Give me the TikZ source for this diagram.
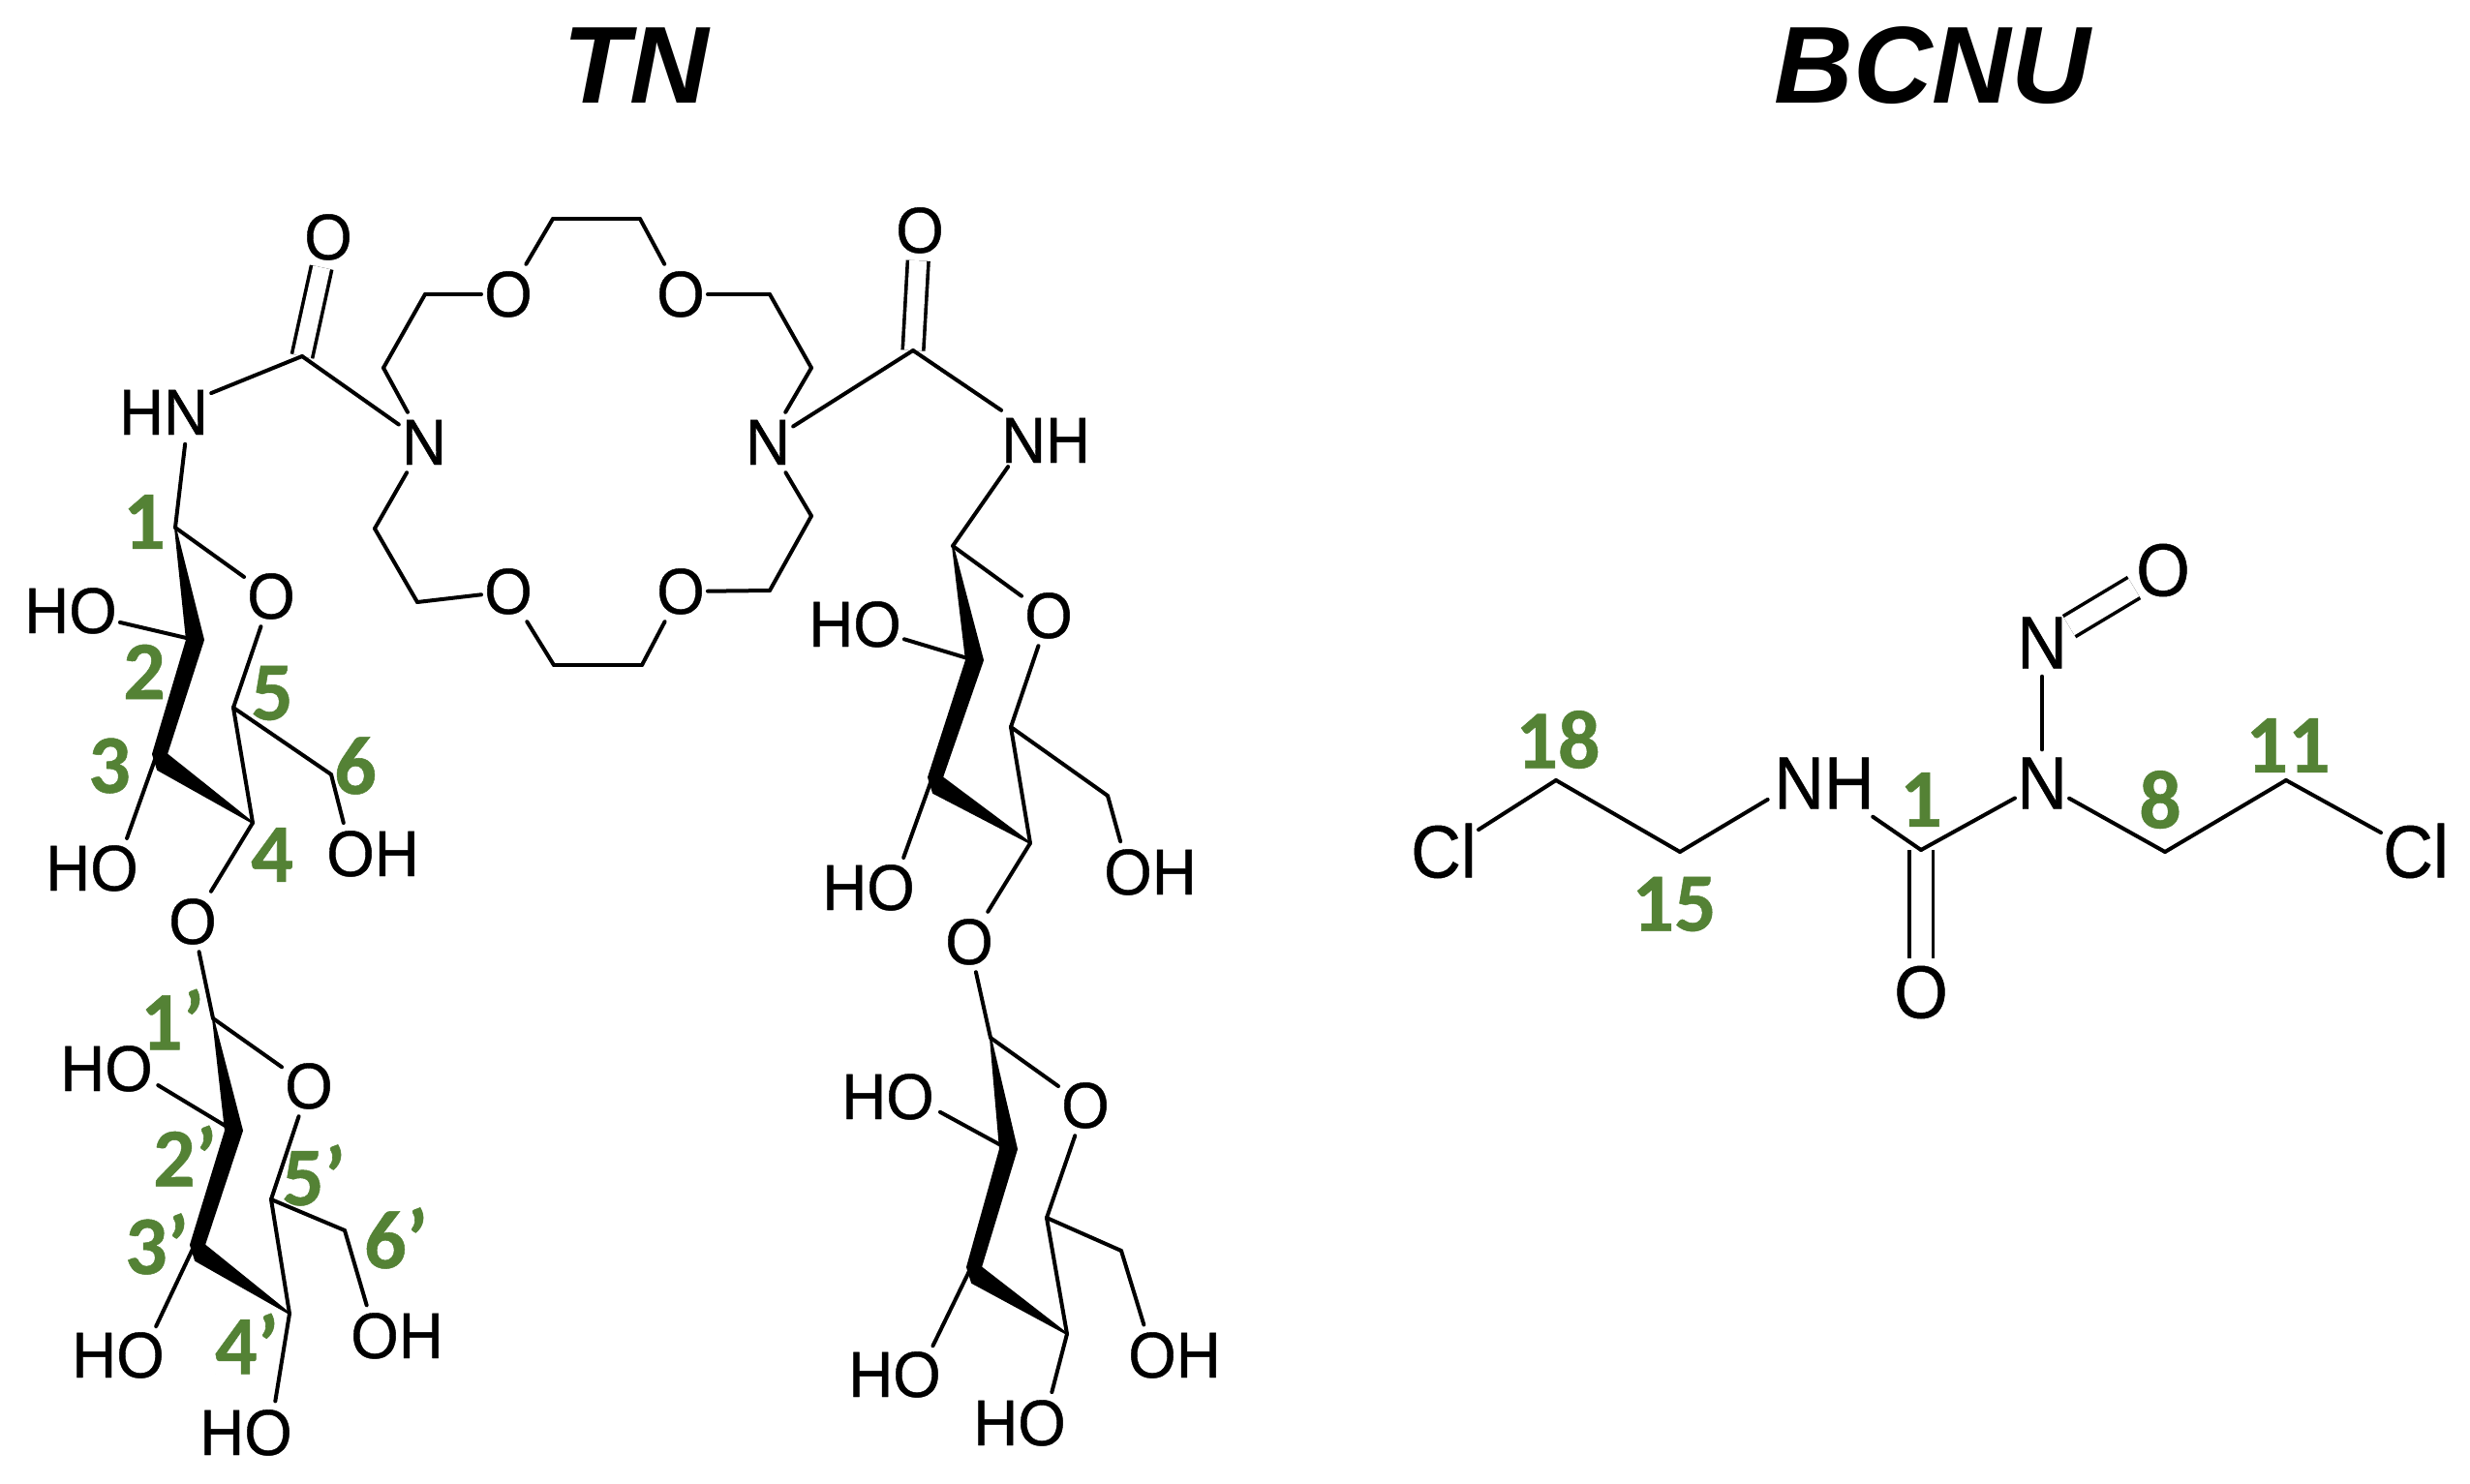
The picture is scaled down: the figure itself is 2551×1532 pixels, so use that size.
\documentclass[tikz,border=0pt]{standalone}
\usepackage{fontspec}
\setmainfont{Liberation Sans}
\newfontfamily\atomfontL[FakeStretch=0.95,FakeBold=0.6]{Liberation Sans}
\newfontfamily\atomfontB[FakeStretch=0.93,FakeBold=0.6]{Liberation Sans}
\newfontfamily\greenfont[BoldFeatures={FakeBold=0.6}]{Carlito}
\definecolor{labelgreen}{HTML}{548235}
\tikzset{
  x=1pt,y=-1pt,
  atom/.style={font=\atomfontL\fontsize{67}{67}\selectfont,text=black,text height=46pt,text depth=0pt,inner xsep=3pt,inner ysep=8pt},
  atomB/.style={font=\atomfontB\fontsize{77}{77}\selectfont,text=black,text height=53pt,text depth=0pt,inner xsep=2pt,inner ysep=8pt},
  num/.style={font=\greenfont\bfseries\fontsize{86}{86}\selectfont,text=labelgreen,inner sep=0pt},
  titletext/.style={font=\bfseries\itshape\fontsize{113}{113}\selectfont,text=black,inner sep=0pt},
  bond/.style={draw=black,line width=4pt,line cap=round,line join=round},
  dbond/.style={draw=black,line width=3.6pt,double=white,double distance=18pt},
  tohet/.style={bond,shorten >=33pt},
  wedge/.style={fill=black,draw=black,line width=2pt,line join=round},
}
% HO / OH nodes: the bond aims at the O of the label
\newcommand{\HOnode}[3]{\node[atom] (#1) at (#2,#3) {HO}; \coordinate (#1o) at ([xshift=25pt]#1.center);}
\newcommand{\OHnode}[3]{\node[atom] (#1) at (#2,#3) {OH}; \coordinate (#1o) at ([xshift=-22pt]#1.center);}
% ring backbone: tip c1, thick c2-c3, wedge to tip c4
\newcommand{\backbone}[4]{\fill[wedge] (#1) -- ([xshift=9pt]#2) -- ([xshift=10pt]#3) -- (#4) -- ([shift={(1,16)}]#3) -- ([xshift=-4pt]#3) -- ([xshift=-8pt]#2) -- cycle;}
\begin{document}
\begin{tikzpicture}
\useasboundingbox (0,0) rectangle (2551,1532);
% titles
\node[titletext] (tTN) at (657,68) {TN};
\node[titletext] (tBC) at (1996,68) {BCNU};

% ===== crown =====
\node[atom] (N1) at (438,457) {N};
\node[atom] (N2) at (793,457) {N};
\node[atom] (Oa) at (525,304) {O};
\node[atom] (Ob) at (703,304) {O};
\node[atom] (Oc) at (703,611) {O};
\node[atom] (Od) at (525,611) {O};
\coordinate (r1) at (396,380);
\coordinate (r2) at (439,304);
\coordinate (r3) at (571,226);
\coordinate (r4) at (661,226);
\coordinate (r5) at (795,304);
\coordinate (r6) at (838,380);
\coordinate (r7) at (838,533);
\coordinate (r8) at (795,610);
\coordinate (r9) at (663,687);
\coordinate (r10) at (572,687);
\coordinate (r11) at (431,622);
\coordinate (r12) at (387,546);
\draw[bond] (N1) -- (r1);
\draw[bond] (r1) -- (r2);
\draw[bond] (r2) -- (Oa);
\draw[bond] (Oa) -- (r3);
\draw[bond] (r3) -- (r4);
\draw[bond] (r4) -- (Ob);
\draw[bond] (Ob) -- (r5);
\draw[bond] (r5) -- (r6);
\draw[bond] (r6) -- (N2);
\draw[bond] (N2) -- (r7);
\draw[bond] (r7) -- (r8);
\draw[bond] (r8) -- (Oc);
\draw[bond] (Oc) -- (r9);
\draw[bond] (r9) -- (r10);
\draw[bond] (r10) -- (Od);
\draw[bond] (Od) -- (r11);
\draw[bond] (r11) -- (r12);
\draw[bond] (r12) -- (N1);

% ===== left urea =====
\node[atom] (LO) at (339,245) {O};
\node[atom] (LHN) at (169,426) {HN};
\coordinate (LC) at (312,368);
\coordinate (LHNn) at ([xshift=26pt]LHN.center);
\draw[dbond] (LC) -- (LO);
\draw[bond] (LHN) -- (LC);
\draw[bond] (LC) -- (N1);

% ===== left sugar 1 =====
\coordinate (a1) at (181,545);
\coordinate (a2) at (201,661);
\coordinate (a3) at (162,779);
\coordinate (a4) at (261,850);
\coordinate (a5) at (241,731);
\coordinate (a6) at (342,800);
\node[atom] (aO) at (280,616) {O};
\node[atom] (aB) at (199,952) {O};
\HOnode{aH2}{73}{631}
\HOnode{aH3}{95}{897}
\OHnode{aH6}{385}{882}
\draw[tohet] (a1) -- (LHNn);
\backbone{a1}{a2}{a3}{a4}
\draw[bond] (a1) -- (aO);
\draw[bond] (aO) -- (a5);
\draw[bond] (a5) -- (a4);
\draw[bond] (a5) -- (a6);
\draw[tohet] (a6) -- (aH6o);
\draw[bond] (a2) -- (aH2);
\draw[tohet] (a3) -- (aH3o);
\draw[bond] (a4) -- (aB);

% ===== left sugar 2 =====
\coordinate (b1) at (220,1052);
\coordinate (b2) at (241,1168);
\coordinate (b3) at (201,1286);
\coordinate (b4) at (299,1357);
\coordinate (b5) at (280,1239);
\coordinate (b6) at (356,1271);
\node[atom] (bO) at (319,1122) {O};
\HOnode{bH2}{110}{1104}
\HOnode{bH3}{122}{1400}
\HOnode{bH4}{254}{1480}
\OHnode{bH6}{410}{1380}
\draw[bond] (aB) -- (b1);
\backbone{b1}{b2}{b3}{b4}
\draw[bond] (b1) -- (bO);
\draw[bond] (bO) -- (b5);
\draw[bond] (b5) -- (b4);
\draw[bond] (b5) -- (b6);
\draw[tohet] (b6) -- (bH6o);
\draw[tohet] (b2) -- (bH2o);
\draw[tohet] (b3) -- (bH3o);
\draw[tohet] (b4) -- (bH4o);

% ===== right urea =====
\node[atom] (RO) at (950,238) {O};
\node[atom] (RNH) at (1080,455) {NH};
\coordinate (RC) at (943,362);
\coordinate (RNHn) at ([xshift=-20pt]RNH.center);
\draw[dbond] (RC) -- (RO);
\draw[bond] (N2) -- (RC);
\draw[bond] (RC) -- (RNH);

% ===== right sugar 1 =====
\coordinate (c1) at (984,564);
\coordinate (c2) at (1006,682);
\coordinate (c3) at (963,803);
\coordinate (c4) at (1064,871);
\coordinate (c5) at (1044,751);
\coordinate (c6) at (1144,822);
\node[atom] (cO) at (1083,636) {O};
\node[atom] (cB) at (1001,973) {O};
\HOnode{cH2}{883}{645}
\HOnode{cH3}{897}{917}
\OHnode{cH6}{1188}{901}
\draw[tohet] (c1) -- (RNHn);
\backbone{c1}{c2}{c3}{c4}
\draw[bond] (c1) -- (cO);
\draw[bond] (cO) -- (c5);
\draw[bond] (c5) -- (c4);
\draw[bond] (c5) -- (c6);
\draw[tohet] (c6) -- (cH6o);
\draw[bond] (c2) -- (cH2);
\draw[tohet] (c3) -- (cH3o);
\draw[bond] (c4) -- (cB);

% ===== right sugar 2 =====
\coordinate (d1) at (1023,1072);
\coordinate (d2) at (1041,1187);
\coordinate (d3) at (1003,1309);
\coordinate (d4) at (1102,1378);
\coordinate (d5) at (1081,1258);
\coordinate (d6) at (1158,1292);
\node[atom] (dO) at (1121,1142) {O};
\HOnode{dH2}{917}{1133}
\HOnode{dH3}{924}{1420}
\HOnode{dH4}{1053}{1470}
\OHnode{dH6}{1213}{1400}
\draw[bond] (cB) -- (d1);
\backbone{d1}{d2}{d3}{d4}
\draw[bond] (d1) -- (dO);
\draw[bond] (dO) -- (d5);
\draw[bond] (d5) -- (d4);
\draw[bond] (d5) -- (d6);
\draw[tohet] (d6) -- (dH6o);
\draw[tohet] (d2) -- (dH2o);
\draw[tohet] (d3) -- (dH3o);
\draw[tohet] (d4) -- (dH4o);

% ===== BCNU =====
\node[atomB] (ClL) at (1491,880) {Cl};
\node[atomB] (ClR) at (2495,880) {Cl};
\node[atomB] (eNH) at (1884,809) {NH};
\node[atomB] (eN) at (2109,809) {N};
\node[atomB] (eNt) at (2109,664) {N};
\node[atomB] (eOt) at (2234,589) {O};
\node[atomB] (eOb) at (1984,1025) {O};
\coordinate (e18) at (1607,806);
\coordinate (e15) at (1735,880);
\coordinate (eC) at (1984,878);
\coordinate (e8) at (2236,880);
\coordinate (e11) at (2361,806);
\coordinate (eNHn) at ([xshift=-30pt]eNH.center);
\draw[dbond,double distance=21pt] (eC) -- (eOb);
\draw[dbond,double distance=21pt] (eNt) -- (eOt);
\draw[bond] (ClL) -- (e18);
\draw[bond] (e18) -- (e15);
\draw[tohet] (e15) -- (eNHn);
\draw[bond] (eNH) -- (eC);
\draw[bond] (eC) -- (eN);
\draw[bond] (eN) -- (e8);
\draw[bond] (e8) -- (e11);
\draw[bond] (e11) -- (ClR);
\draw[bond] (eN) -- (eNt);

% ===== green numbering =====
\node[num] (n1) at (149,539) {1};
\node[num] (n2) at (149,694) {2};
\node[num] (n3) at (113,791) {3};
\node[num] (n4) at (281,883) {4};
\node[num] (n5) at (281,716) {5};
\node[num] (n6) at (367,791) {6};
\node[num] (p1) at (178,1053) {1’};
\node[num] (p2) at (191,1194) {2’};
\node[num] (p3) at (162,1285) {3’};
\node[num] (p4) at (255,1388) {4’};
\node[num] (p5) at (324,1214) {5’};
\node[num] (p6) at (409,1279) {6’};
\node[num] (m18) at (1609,764) {18};
\node[num] (m15) at (1729,934) {15};
\node[num] (m1) at (1984,826) {1};
\node[num] (m8) at (2231,826) {8};
\node[num] (m11) at (2363,770) {11};
\end{tikzpicture}
\end{document}
